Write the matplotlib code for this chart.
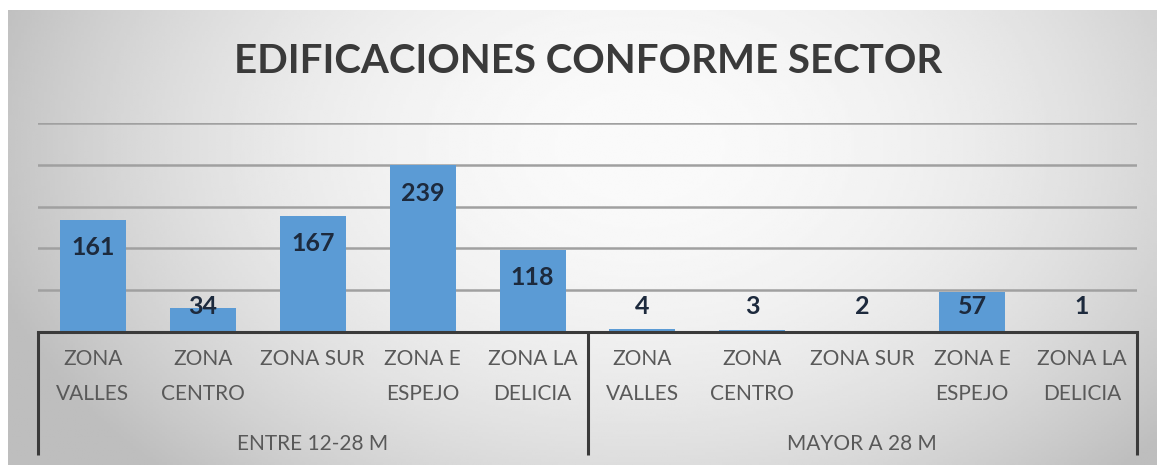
import numpy as np
import matplotlib.pyplot as plt

# datos
grupos = ["ENTRE 12-28 M", "MAYOR A 28 M"]
zonas = ["ZONA\nVALLES", "ZONA\nCENTRO", "ZONA SUR", "ZONA E\nESPEJO", "ZONA LA\nDELICIA"]
entre_12_28 = [161, 34, 167, 239, 118]
mayor_28 = [4, 3, 2, 57, 1]

valores = entre_12_28 + mayor_28
etiquetas = zonas + zonas
x = np.arange(len(valores))

W, H = 1157, 465
fig = plt.figure(figsize=(W / 100, H / 100), dpi=100)
fig.patch.set_facecolor('white')

# fondo gris degradado
bg = fig.add_axes([8 / W, 0, 1 - 8 / W, 455 / H])
gx, gy = np.meshgrid(np.linspace(0, 1, 400), np.linspace(0, 1, 200))
r2 = ((gx - 0.55) / 0.7) ** 2 + ((gy - 0.3) / 1.2) ** 2
grad = np.clip(250 - 85 * r2, 190, 250)
bg.imshow(grad, cmap='gray', vmin=0, vmax=255, aspect='auto')
bg.axis('off')

ax = fig.add_axes([38 / W, 133 / H, 1099 / W, 209 / H])
ax.patch.set_alpha(0)
ax.bar(x, valores, width=0.6, color='#5B9BD5', zorder=3)
ax.set_xlim(-0.5, len(valores) - 0.5)
ax.set_ylim(0, 300)
ax.set_yticks([60, 120, 180, 240, 300])
ax.grid(axis='y', color='#a0a0a0', lw=1.8, zorder=0)
ax.tick_params(left=False, labelleft=False, bottom=False, labelbottom=False)
for s in ['left', 'right', 'top']:
    ax.spines[s].set_visible(False)
ax.spines['bottom'].set_color('#3a3a3a')
ax.spines['bottom'].set_linewidth(2.2)
ax.spines['bottom'].set_zorder(4)

fuente = ['Lato', 'DejaVu Sans']

for i, v in enumerate(valores):
    ax.text(i, max(v - 40, 37), str(v), ha='center', va='center', fontsize=18,
            fontweight='bold', color='#1d2a3d', family=fuente, zorder=5)

tr = ax.get_xaxis_transform()
for i, lab in enumerate(etiquetas):
    ax.text(i, -0.079, lab, transform=tr, ha='center', va='top', fontsize=15,
            color='#595959', family=fuente, linespacing=1.95)

for xv in [-0.5, 4.5, 9.5]:
    ax.plot([xv, xv], [0, -0.589], transform=tr, color='#3a3a3a', lw=2.2,
            clip_on=False, solid_capstyle='butt')

for k, g in enumerate(grupos):
    ax.text(2 + 5 * k, -0.535, g, transform=tr, ha='center', va='center',
            fontsize=15, color='#595959', family=fuente)

fig.text(0.508, 0.867, "EDIFICACIONES CONFORME SECTOR", ha='center', va='center',
         fontsize=29, fontweight='bold', color='#3a3a3a', family=fuente)

fig.savefig('out.png', dpi=100)
